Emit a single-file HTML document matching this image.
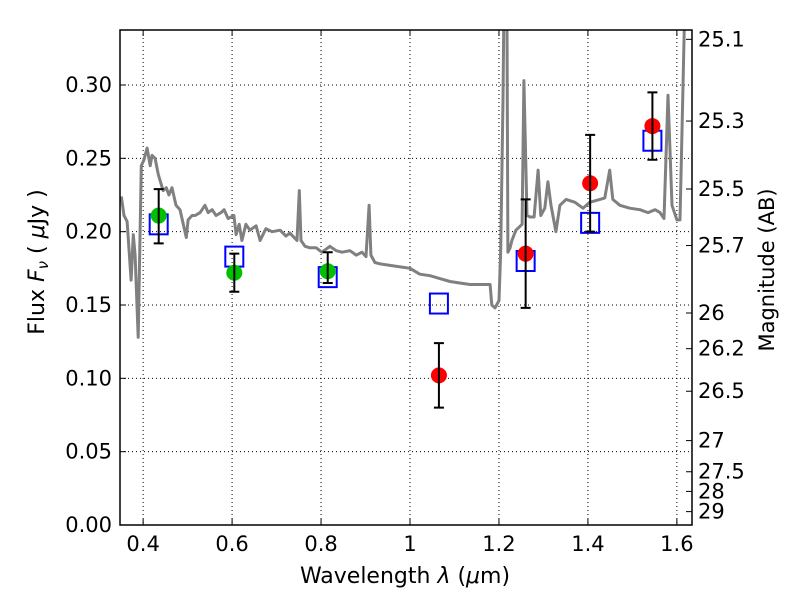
<!DOCTYPE html>
<html><head><meta charset="utf-8"><style>
body{margin:0;background:#fff}
svg{font-family:"DejaVu Sans","Liberation Sans",sans-serif}
</style></head><body>
<svg id="chart" width="800" height="600" viewBox="0 0 800 600">
<defs><clipPath id="plotclip"><rect x="120" y="30" width="572" height="495"/></clipPath></defs>
<rect x="0" y="0" width="800" height="600" fill="#fff"/>
<g id="grid"></g>
<g id="spec" clip-path="url(#plotclip)"></g>
<g id="marks"></g>
<rect x="120" y="30" width="572" height="495" fill="none" stroke="#000" stroke-width="1.5"/>
<g id="axes"></g>
<text x="405" y="583" font-size="22" text-anchor="middle">Wavelength  <tspan font-style="italic">λ</tspan> (<tspan font-style="italic">μ</tspan>m)</text>
<text transform="translate(44,262) rotate(-90)" font-size="22" text-anchor="middle">Flux  <tspan font-style="italic">F<tspan font-size="15" dy="4">ν</tspan></tspan><tspan dy="-4">  ( </tspan><tspan font-style="italic">μ</tspan>Jy )</text>
<text transform="translate(774,270) rotate(-90)" font-size="21" text-anchor="middle">Magnitude (AB)</text>
</svg>
<script>
const xTicks=[0.4,0.6,0.8,1.0,1.2,1.4,1.6];
const xTickLabels=["0.4","0.6","0.8","1","1.2","1.4","1.6"];
const yTicks=[0,0.05,0.10,0.15,0.20,0.25,0.30];
const yTickLabels=["0.00","0.05","0.10","0.15","0.20","0.25","0.30"];
const magTicks=[25.1,25.3,25.5,25.7,26,26.2,26.5,27,27.5,28,29];
const magTickLabels=["25.1","25.3","25.5","25.7","26","26.2","26.5","27","27.5","28","29"];
const specWave=[0.351,0.357,0.364,0.373,0.378,0.382,0.389,0.396,0.402,0.409,0.416,0.420,0.427,0.434,0.445,0.452,0.458,0.465,0.474,0.483,0.497,0.501,0.510,0.517,0.528,0.539,0.546,0.555,0.564,0.575,0.582,0.591,0.604,0.609,0.616,0.622,0.631,0.640,0.654,0.663,0.676,0.690,0.708,0.721,0.730,0.746,0.751,0.755,0.764,0.775,0.789,0.802,0.820,0.834,0.847,0.865,0.879,0.892,0.901,0.908,0.912,0.921,0.933,0.955,0.978,1.000,1.022,1.045,1.067,1.090,1.112,1.135,1.180,1.184,1.191,1.200,1.204,1.209,1.213,1.218,1.220,1.225,1.229,1.238,1.252,1.256,1.263,1.270,1.279,1.288,1.294,1.303,1.310,1.317,1.328,1.337,1.351,1.371,1.389,1.404,1.427,1.438,1.449,1.456,1.472,1.494,1.517,1.535,1.551,1.562,1.571,1.580,1.589,1.600,1.607,1.613,1.618,1.622];
const specFlux=[0.224,0.211,0.207,0.167,0.198,0.184,0.128,0.245,0.249,0.257,0.245,0.252,0.250,0.239,0.228,0.230,0.225,0.230,0.218,0.215,0.196,0.208,0.211,0.211,0.213,0.218,0.213,0.215,0.211,0.213,0.215,0.209,0.211,0.198,0.205,0.194,0.205,0.201,0.204,0.194,0.202,0.200,0.201,0.197,0.199,0.194,0.228,0.194,0.190,0.189,0.189,0.186,0.190,0.187,0.186,0.187,0.184,0.186,0.183,0.218,0.184,0.179,0.178,0.177,0.176,0.175,0.171,0.170,0.168,0.166,0.165,0.164,0.164,0.150,0.148,0.153,0.187,0.290,0.409,0.341,0.186,0.189,0.194,0.201,0.205,0.303,0.211,0.210,0.210,0.242,0.211,0.216,0.234,0.218,0.200,0.218,0.222,0.220,0.216,0.220,0.222,0.223,0.242,0.222,0.218,0.216,0.215,0.213,0.215,0.213,0.209,0.293,0.218,0.208,0.208,0.290,0.358,0.410];
const greenWave=[0.435,0.605,0.815];
const greenFlux=[0.211,0.172,0.173];
const greenLo=[0.192,0.159,0.165];
const greenHi=[0.229,0.185,0.186];
const redWave=[1.065,1.26,1.405,1.545];
const redFlux=[0.102,0.185,0.233,0.272];
const redLo=[0.080,0.148,0.200,0.249];
const redHi=[0.124,0.222,0.266,0.295];
const modelWave=[0.435,0.605,0.815,1.065,1.26,1.405,1.545];
const modelFlux=[0.205,0.183,0.169,0.151,0.180,0.206,0.262];

const X0=120,X1=692,Y0=525,Y1=30,xmin=0.348,xmax=1.634,ymin=0,ymax=0.3375;
const sx=v=>X0+(v-xmin)/(xmax-xmin)*(X1-X0);
const sy=v=>Y0-(v-ymin)/(ymax-ymin)*(Y0-Y1);
const smag=m=>sy(Math.pow(10,(23.9-m)/2.5));
const NS="http://www.w3.org/2000/svg";
function mk(tag,attrs,parent){const e=document.createElementNS(NS,tag);for(const k in attrs)e.setAttribute(k,attrs[k]);parent.appendChild(e);return e;}
const grid=document.getElementById('grid'),axes=document.getElementById('axes'),spec=document.getElementById('spec'),marks=document.getElementById('marks');
xTicks.forEach((t,i)=>{const x=sx(t);
 let g=mk('line',{x1:x,x2:x,y1:Y1,y2:Y0,stroke:'#000','stroke-width':1,'stroke-dasharray':'1,3'},grid);
 
 let tk=mk('line',{x1:x,x2:x,y1:Y0,y2:Y0-6,stroke:'#000'},axes);
 let tk2=mk('line',{x1:x,x2:x,y1:Y1,y2:Y1+6,stroke:'#000'},axes);
 let l=mk('text',{x:x,y:Y0+26,'font-size':21,'text-anchor':'middle'},axes);l.textContent=xTickLabels[i];
 });
yTicks.forEach((t,i)=>{const y=sy(t);
 if(t>0){let g=mk('line',{x1:X0,x2:X1,y1:y,y2:y,stroke:'#000','stroke-width':1,'stroke-dasharray':'1,3'},grid);
 }
 let tk=mk('line',{x1:X0,x2:X0+6,y1:y,y2:y,stroke:'#000'},axes);
 let l=mk('text',{x:X0-8,y:y+7,'font-size':21,'text-anchor':'end'},axes);l.textContent=yTickLabels[i];
 });
magTicks.forEach((m,i)=>{const y=smag(m);
 let tk=mk('line',{x1:X1-6,x2:X1,y1:y,y2:y,stroke:'#000'},axes);
 let l=mk('text',{x:X1+6,y:y+7,'font-size':21,'text-anchor':'start'},axes);l.textContent=magTickLabels[i];
 });
let d=specWave.map((w,i)=>(i?'L':'M')+sx(w).toFixed(1)+','+sy(specFlux[i]).toFixed(1)).join(' ');
let p=mk('path',{d:d,fill:'none',stroke:'#808080','stroke-width':3,'stroke-linejoin':'round'},spec);

modelWave.forEach((w,i)=>{let r=mk('rect',{x:sx(w)-9,y:sy(modelFlux[i])-10,width:18,height:20,fill:'none',stroke:'#0000ff','stroke-width':2},marks);
 });
function pts(wa,fa,lo,hi,col,name){wa.forEach((w,i)=>{const x=sx(w);
 let c=mk('circle',{cx:x,cy:sy(fa[i]),r:8,fill:col},marks);
 let e=mk('path',{d:`M${x},${sy(lo[i])}V${sy(hi[i])}M${x-5},${sy(lo[i])}h10M${x-5},${sy(hi[i])}h10`,stroke:'#000','stroke-width':2,fill:'none'},marks);
 });}
pts(greenWave,greenFlux,greenLo,greenHi,'#00c000','green');
pts(redWave,redFlux,redLo,redHi,'#ff0000','red');
</script>
</body></html>
